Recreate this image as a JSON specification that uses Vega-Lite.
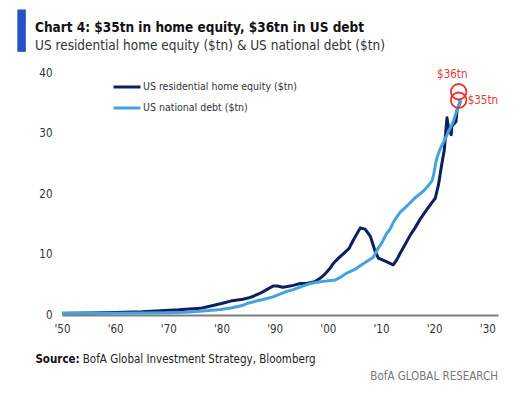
{
  "$schema": "https://vega.github.io/schema/vega-lite/v6.json",
  "autosize": {"type": "none"},
  "padding": {"left": 62, "top": 73, "right": 30, "bottom": 79},
  "width": 436,
  "height": 242,
  "background": "white",
  "config": {
    "font": "DejaVu Sans Condensed, sans-serif",
    "view": {"stroke": null}
  },
  "title": {
    "text": "Chart 4: $35tn in home equity, $36tn in US debt",
    "subtitle": "US residential home equity ($tn) & US national debt ($tn)",
    "anchor": "start",
    "frame": "group",
    "dx": -27,
    "dy": 60,
    "offset": 17,
    "font": "DejaVu Sans Condensed, sans-serif",
    "fontSize": 13.5,
    "fontWeight": "bold",
    "color": "#111111",
    "subtitleFont": "DejaVu Sans Condensed, sans-serif",
    "subtitleFontSize": 13.5,
    "subtitleColor": "#333333",
    "subtitlePadding": 4
  },
  "datasets": {
    "series": [
      {"year": 1950, "value": 0.3, "series": "US residential home equity ($tn)"},
      {"year": 1955, "value": 0.35, "series": "US residential home equity ($tn)"},
      {"year": 1960, "value": 0.42, "series": "US residential home equity ($tn)"},
      {"year": 1965, "value": 0.52, "series": "US residential home equity ($tn)"},
      {"year": 1968.5, "value": 0.7, "series": "US residential home equity ($tn)"},
      {"year": 1972, "value": 0.85, "series": "US residential home equity ($tn)"},
      {"year": 1976, "value": 1.1, "series": "US residential home equity ($tn)"},
      {"year": 1978, "value": 1.5, "series": "US residential home equity ($tn)"},
      {"year": 1980, "value": 1.9, "series": "US residential home equity ($tn)"},
      {"year": 1981.7, "value": 2.3, "series": "US residential home equity ($tn)"},
      {"year": 1984, "value": 2.6, "series": "US residential home equity ($tn)"},
      {"year": 1985, "value": 2.8, "series": "US residential home equity ($tn)"},
      {"year": 1986, "value": 3.1, "series": "US residential home equity ($tn)"},
      {"year": 1987.3, "value": 3.6, "series": "US residential home equity ($tn)"},
      {"year": 1988.5, "value": 4.2, "series": "US residential home equity ($tn)"},
      {"year": 1989.7, "value": 4.8, "series": "US residential home equity ($tn)"},
      {"year": 1990.5, "value": 4.8, "series": "US residential home equity ($tn)"},
      {"year": 1991.5, "value": 4.6, "series": "US residential home equity ($tn)"},
      {"year": 1992.4, "value": 4.7, "series": "US residential home equity ($tn)"},
      {"year": 1993.5, "value": 4.9, "series": "US residential home equity ($tn)"},
      {"year": 1994.8, "value": 5.2, "series": "US residential home equity ($tn)"},
      {"year": 1996, "value": 5.2, "series": "US residential home equity ($tn)"},
      {"year": 1997.5, "value": 5.5, "series": "US residential home equity ($tn)"},
      {"year": 1998.6, "value": 6.1, "series": "US residential home equity ($tn)"},
      {"year": 1999.5, "value": 6.8, "series": "US residential home equity ($tn)"},
      {"year": 2000.3, "value": 7.6, "series": "US residential home equity ($tn)"},
      {"year": 2001.1, "value": 8.6, "series": "US residential home equity ($tn)"},
      {"year": 2002, "value": 9.4, "series": "US residential home equity ($tn)"},
      {"year": 2003, "value": 10.2, "series": "US residential home equity ($tn)"},
      {"year": 2004, "value": 11.0, "series": "US residential home equity ($tn)"},
      {"year": 2004.8, "value": 12.4, "series": "US residential home equity ($tn)"},
      {"year": 2006.1, "value": 14.4, "series": "US residential home equity ($tn)"},
      {"year": 2007, "value": 14.2, "series": "US residential home equity ($tn)"},
      {"year": 2008, "value": 13.0, "series": "US residential home equity ($tn)"},
      {"year": 2008.9, "value": 10.5, "series": "US residential home equity ($tn)"},
      {"year": 2009.5, "value": 9.4, "series": "US residential home equity ($tn)"},
      {"year": 2010.8, "value": 8.9, "series": "US residential home equity ($tn)"},
      {"year": 2012.3, "value": 8.3, "series": "US residential home equity ($tn)"},
      {"year": 2013, "value": 9.2, "series": "US residential home equity ($tn)"},
      {"year": 2013.6, "value": 10.2, "series": "US residential home equity ($tn)"},
      {"year": 2014.5, "value": 11.6, "series": "US residential home equity ($tn)"},
      {"year": 2015.5, "value": 13.2, "series": "US residential home equity ($tn)"},
      {"year": 2016.4, "value": 14.4, "series": "US residential home equity ($tn)"},
      {"year": 2017.4, "value": 15.9, "series": "US residential home equity ($tn)"},
      {"year": 2018.6, "value": 17.4, "series": "US residential home equity ($tn)"},
      {"year": 2019.5, "value": 18.5, "series": "US residential home equity ($tn)"},
      {"year": 2020.2, "value": 19.3, "series": "US residential home equity ($tn)"},
      {"year": 2020.8, "value": 21.5, "series": "US residential home equity ($tn)"},
      {"year": 2021.4, "value": 24.8, "series": "US residential home equity ($tn)"},
      {"year": 2021.9, "value": 27.3, "series": "US residential home equity ($tn)"},
      {"year": 2022.2, "value": 30.5, "series": "US residential home equity ($tn)"},
      {"year": 2022.4, "value": 32.6, "series": "US residential home equity ($tn)"},
      {"year": 2022.7, "value": 30.9, "series": "US residential home equity ($tn)"},
      {"year": 2023.2, "value": 29.8, "series": "US residential home equity ($tn)"},
      {"year": 2023.3, "value": 31.2, "series": "US residential home equity ($tn)"},
      {"year": 2023.8, "value": 31.7, "series": "US residential home equity ($tn)"},
      {"year": 2024.1, "value": 32.0, "series": "US residential home equity ($tn)"},
      {"year": 2024.3, "value": 33.9, "series": "US residential home equity ($tn)"},
      {"year": 2024.8, "value": 35.0, "series": "US residential home equity ($tn)"},
      {"year": 2024.9, "value": 35.4, "series": "US residential home equity ($tn)"},
      {"year": 1950, "value": 0.26, "series": "US national debt ($tn)"},
      {"year": 1955, "value": 0.27, "series": "US national debt ($tn)"},
      {"year": 1960, "value": 0.29, "series": "US national debt ($tn)"},
      {"year": 1965, "value": 0.32, "series": "US national debt ($tn)"},
      {"year": 1970, "value": 0.38, "series": "US national debt ($tn)"},
      {"year": 1973, "value": 0.46, "series": "US national debt ($tn)"},
      {"year": 1974.7, "value": 0.55, "series": "US national debt ($tn)"},
      {"year": 1977, "value": 0.7, "series": "US national debt ($tn)"},
      {"year": 1979.8, "value": 0.9, "series": "US national debt ($tn)"},
      {"year": 1982, "value": 1.2, "series": "US national debt ($tn)"},
      {"year": 1984, "value": 1.6, "series": "US national debt ($tn)"},
      {"year": 1984.8, "value": 1.9, "series": "US national debt ($tn)"},
      {"year": 1986.5, "value": 2.3, "series": "US national debt ($tn)"},
      {"year": 1988, "value": 2.6, "series": "US national debt ($tn)"},
      {"year": 1989.7, "value": 3.0, "series": "US national debt ($tn)"},
      {"year": 1991.1, "value": 3.5, "series": "US national debt ($tn)"},
      {"year": 1992.3, "value": 3.9, "series": "US national debt ($tn)"},
      {"year": 1993.5, "value": 4.2, "series": "US national debt ($tn)"},
      {"year": 1995, "value": 4.7, "series": "US national debt ($tn)"},
      {"year": 1996.7, "value": 5.2, "series": "US national debt ($tn)"},
      {"year": 1998, "value": 5.4, "series": "US national debt ($tn)"},
      {"year": 1999.5, "value": 5.6, "series": "US national debt ($tn)"},
      {"year": 2001.4, "value": 5.8, "series": "US national debt ($tn)"},
      {"year": 2002.5, "value": 6.3, "series": "US national debt ($tn)"},
      {"year": 2003.5, "value": 6.9, "series": "US national debt ($tn)"},
      {"year": 2005.2, "value": 7.6, "series": "US national debt ($tn)"},
      {"year": 2006.5, "value": 8.4, "series": "US national debt ($tn)"},
      {"year": 2008.6, "value": 9.6, "series": "US national debt ($tn)"},
      {"year": 2009.3, "value": 10.8, "series": "US national debt ($tn)"},
      {"year": 2010.2, "value": 12.0, "series": "US national debt ($tn)"},
      {"year": 2011, "value": 13.4, "series": "US national debt ($tn)"},
      {"year": 2011.7, "value": 14.2, "series": "US national debt ($tn)"},
      {"year": 2012.5, "value": 15.6, "series": "US national debt ($tn)"},
      {"year": 2013.6, "value": 17.0, "series": "US national debt ($tn)"},
      {"year": 2014.5, "value": 17.7, "series": "US national debt ($tn)"},
      {"year": 2015.2, "value": 18.3, "series": "US national debt ($tn)"},
      {"year": 2016.1, "value": 19.1, "series": "US national debt ($tn)"},
      {"year": 2017, "value": 19.8, "series": "US national debt ($tn)"},
      {"year": 2018, "value": 20.5, "series": "US national debt ($tn)"},
      {"year": 2019, "value": 21.5, "series": "US national debt ($tn)"},
      {"year": 2019.6, "value": 22.2, "series": "US national debt ($tn)"},
      {"year": 2019.9, "value": 23.2, "series": "US national debt ($tn)"},
      {"year": 2020.3, "value": 25.2, "series": "US national debt ($tn)"},
      {"year": 2020.6, "value": 26.2, "series": "US national debt ($tn)"},
      {"year": 2021.1, "value": 27.4, "series": "US national debt ($tn)"},
      {"year": 2022.1, "value": 29.2, "series": "US national debt ($tn)"},
      {"year": 2023, "value": 30.9, "series": "US national debt ($tn)"},
      {"year": 2023.6, "value": 32.0, "series": "US national debt ($tn)"},
      {"year": 2024.1, "value": 33.4, "series": "US national debt ($tn)"},
      {"year": 2024.8, "value": 35.0, "series": "US national debt ($tn)"},
      {"year": 2024.9, "value": 35.7, "series": "US national debt ($tn)"}
    ],
    "circles": [
      {"year": 2024.6, "value": 36.9},
      {"year": 2024.6, "value": 35.5}
    ],
    "notes": [
      {"year": 2023.4, "value": 39.6, "label": "$36tn", "kind": "debt-label"},
      {"year": 2026.3, "value": 35.4, "label": "$35tn", "kind": "equity-label"},
      {"year": 1945.0, "value": -7.5, "label": "Source:", "kind": "source-head"},
      {"year": 1953.9, "value": -7.5, "label": "BofA Global Investment Strategy, Bloomberg", "kind": "source-body"},
      {"year": 2032, "value": -10.3, "label": "BofA GLOBAL RESEARCH", "kind": "brand"}
    ],
    "bar": [
      {"x0": 1941.6, "x1": 1943.2, "y0": 43.5, "y1": 50.5}
    ]
  },
  "layer": [
    {
      "data": {"name": "bar"},
      "mark": {"type": "rect", "clip": false, "color": "#2452c4"},
      "encoding": {
        "x": {"field": "x0", "type": "quantitative"},
        "x2": {"field": "x1"},
        "y": {"field": "y0", "type": "quantitative"},
        "y2": {"field": "y1"}
      }
    },
    {
      "data": {"name": "series"},
      "mark": {"type": "line", "strokeWidth": 3, "strokeJoin": "round", "clip": false},
      "encoding": {
        "x": {
          "field": "year", "type": "quantitative",
          "scale": {"domain": [1950, 2032], "nice": false, "zero": false},
          "axis": {
            "title": null,
            "values": [1950, 1955, 1960, 1965, 1970, 1975, 1980, 1985, 1990, 1995, 2000, 2005, 2010, 2015, 2020, 2025, 2030],
            "labelExpr": "\"'\" + substring(toString(datum.value), 2)",
            "labelOverlap": false,
            "domainColor": "#7f7f7f",
            "domainWidth": 2,
            "ticks": false,
            "grid": false,
            "labelColor": "#333333",
            "labelFontSize": 11.5,
            "labelPadding": 8,
            "labelFlush": false
          }
        },
        "y": {
          "field": "value", "type": "quantitative",
          "scale": {"domain": [0, 40], "nice": false},
          "axis": {
            "title": null,
            "values": [0, 5, 10, 15, 20, 25, 30, 35, 40],
            "labelOverlap": false,
            "domain": false,
            "ticks": false,
            "grid": false,
            "labelColor": "#333333",
            "labelFontSize": 11.5,
            "labelPadding": 10
          }
        },
        "color": {
          "field": "series", "type": "nominal",
          "scale": {
            "domain": ["US residential home equity ($tn)", "US national debt ($tn)"],
            "range": ["#0c1f5f", "#44a2de"]
          },
          "legend": {
            "title": null,
            "orient": "none",
            "legendX": 50,
            "legendY": -1,
            "symbolType": "stroke",
            "symbolSize": 729,
            "symbolStrokeWidth": 3,
            "labelFontSize": 10.5,
            "labelLimit": 300,
            "labelColor": "#333333",
            "labelOffset": 1,
            "rowPadding": -8
          }
        },
        "order": {"field": "year", "type": "quantitative"}
      }
    },
    {
      "data": {"name": "circles"},
      "mark": {"type": "point", "shape": "circle", "filled": false, "opacity": 1, "size": 240, "stroke": "#e8332a", "strokeWidth": 1.8, "clip": false},
      "encoding": {
        "x": {"field": "year", "type": "quantitative"},
        "y": {"field": "value", "type": "quantitative"}
      }
    },
    {
      "data": {"name": "notes"},
      "transform": [{"filter": "datum.kind === 'debt-label'"}],
      "mark": {"type": "text", "color": "#e0392e", "fontSize": 11.5, "align": "center", "baseline": "middle", "clip": false},
      "encoding": {
        "x": {"field": "year", "type": "quantitative"},
        "y": {"field": "value", "type": "quantitative"},
        "text": {"field": "label"}
      }
    },
    {
      "data": {"name": "notes"},
      "transform": [{"filter": "datum.kind === 'equity-label'"}],
      "mark": {"type": "text", "color": "#e0392e", "fontSize": 11.5, "align": "left", "baseline": "middle", "clip": false},
      "encoding": {
        "x": {"field": "year", "type": "quantitative"},
        "y": {"field": "value", "type": "quantitative"},
        "text": {"field": "label"}
      }
    },
    {
      "data": {"name": "notes"},
      "transform": [{"filter": "datum.kind === 'source-head'"}],
      "mark": {"type": "text", "color": "#111111", "fontSize": 11.5, "fontWeight": "bold", "align": "left", "baseline": "middle", "clip": false},
      "encoding": {
        "x": {"field": "year", "type": "quantitative"},
        "y": {"field": "value", "type": "quantitative"},
        "text": {"field": "label"}
      }
    },
    {
      "data": {"name": "notes"},
      "transform": [{"filter": "datum.kind === 'source-body'"}],
      "mark": {"type": "text", "color": "#222222", "fontSize": 11.5, "align": "left", "baseline": "middle", "clip": false},
      "encoding": {
        "x": {"field": "year", "type": "quantitative"},
        "y": {"field": "value", "type": "quantitative"},
        "text": {"field": "label"}
      }
    },
    {
      "data": {"name": "notes"},
      "transform": [{"filter": "datum.kind === 'brand'"}],
      "mark": {"type": "text", "color": "#777777", "fontSize": 11.5, "align": "right", "baseline": "middle", "clip": false},
      "encoding": {
        "x": {"field": "year", "type": "quantitative"},
        "y": {"field": "value", "type": "quantitative"},
        "text": {"field": "label"}
      }
    }
  ]
}
